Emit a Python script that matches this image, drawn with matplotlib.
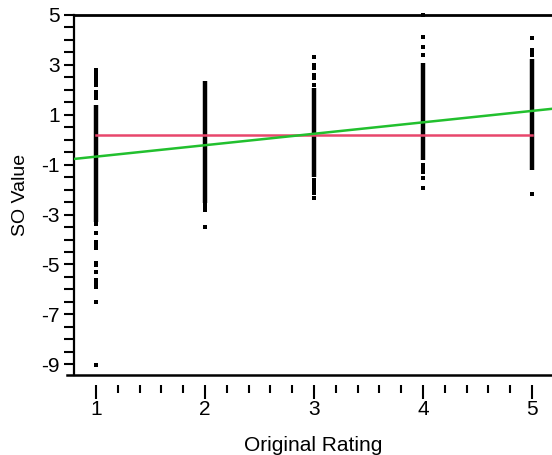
import matplotlib
matplotlib.use("Agg")
import matplotlib.pyplot as plt
from matplotlib.ticker import MultipleLocator, FixedLocator
from matplotlib.lines import Line2D

plt.rcParams['font.family'] = ['Liberation Sans', 'DejaVu Sans']

# ---- data ----
ratings = [1, 2, 3, 4, 5]
dense_low = [-3.30, -2.55, -1.49, -0.82, -1.22]
dense_high = [1.39, 2.35, 2.07, 3.06, 3.22]

r1_points = [2.79, 2.72, 2.66, 2.55, 2.39, 2.28, 2.19, 1.92, 1.79, 1.66,
             -3.36, -3.73, -4.09, -4.19, -4.32, -4.94, -5.01, -5.32,
             -5.63, -5.76, -5.90, -6.52, -9.01]
r2_points = [-2.62, -2.72, -2.80, -3.49]
r3_points = [3.33, 3.00, 2.88, 2.60, 2.47, 2.20,
             -1.62, -1.75, -1.89, -2.02, -2.14, -2.35]
r4_points = [5.00, 4.13, 3.73, 3.40, -1.02, -1.15, -1.29, -1.55, -1.95]
r5_points = [4.06, 3.60, 3.50, 3.40, -2.19]
outliers = [r1_points, r2_points, r3_points, r4_points, r5_points]

mean_x = [1, 5]
mean_y = [0.2, 0.2]
fit_x = [0.798, 5.183]
fit_y = [-0.77, 1.24]

x_ticks = [1, 2, 3, 4, 5]
x_minor = [1.2, 1.4, 1.6, 1.8, 2.2, 2.4, 2.6, 2.8, 3.2, 3.4, 3.6, 3.8,
           4.2, 4.4, 4.6, 4.8]
y_ticks = [5, 3, 1, -1, -3, -5, -7, -9]

# ---- figure ----
W, H = 552, 455
fig = plt.figure(figsize=(W / 100, H / 100), dpi=100)
L, R, T, B = 74, 552, 15, 375
ax = fig.add_axes([L / W, (H - B) / H, (R - L) / W, (B - T) / H])
ax.set_xlim(0.798, 5.183)
ax.set_ylim(-9.43, 5.0)

# dense part of each column
ax.vlines(ratings, dense_low, dense_high, colors='black', linewidth=3.2, zorder=2)
# isolated points
for r, pts in zip(ratings, outliers):
    ax.plot([r] * len(pts), pts, linestyle='none', marker='s', markersize=2.5,
            color='black', markeredgewidth=0, zorder=2, clip_on=False)

ax.plot(mean_x, mean_y, color='#e8466c', linewidth=1.8, zorder=3)
ax.plot(fit_x, fit_y, color='#22c02e', linewidth=1.8, zorder=3)

# spines
ax.spines['right'].set_visible(False)
ax.spines['top'].set_linewidth(2.0)
ax.spines['left'].set_linewidth(1.6)
ax.spines['bottom'].set_visible(False)
ax.spines['bottom'].set_position(('outward', 7))
fig.add_artist(Line2D([67 / W, 1.0], [(H - B) / H, (H - B) / H],
                      transform=fig.transFigure, color='black', linewidth=1.8,
                      zorder=5))

# ticks
ax.xaxis.set_major_locator(FixedLocator(x_ticks))
ax.xaxis.set_minor_locator(FixedLocator(x_minor))
ax.yaxis.set_major_locator(FixedLocator(y_ticks))
ax.yaxis.set_minor_locator(MultipleLocator(0.5))
ax.tick_params(axis='x', which='major', direction='out', length=10, width=1.5,
               pad=1, labelsize=15)
ax.tick_params(axis='x', which='minor', direction='out', length=6, width=1.5)
ax.tick_params(axis='y', which='both', direction='out', length=7, width=1.5,
               pad=3, labelsize=15)
ax.set_xticklabels([str(v) for v in x_ticks])
ax.set_yticklabels([str(v) for v in y_ticks])

ax.set_xlabel('Original Rating', fontsize=15, labelpad=12)
ax.set_ylabel('SO Value', fontsize=14, labelpad=9)

fig.savefig('out.png', dpi=100)
